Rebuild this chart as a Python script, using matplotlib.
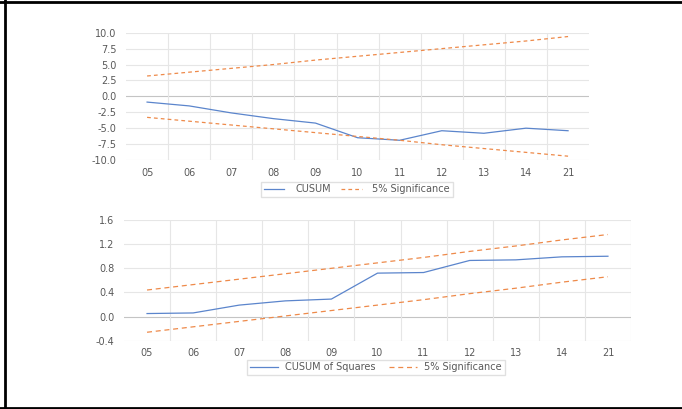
import matplotlib.pyplot as plt
from matplotlib.lines import Line2D

# Datos
periods = ["05", "06", "07", "08", "09", "10", "11", "12", "13", "14", "21"]

cusum = [-0.9, -1.5, -2.6, -3.5, -4.2, -6.5, -6.9, -5.4, -5.8, -5.0, -5.4]
cusum_up = [3.2, 3.8, 4.4, 5.0, 5.7, 6.3, 6.9, 7.5, 8.1, 8.7, 9.4]
cusum_lo = [-3.3, -3.9, -4.5, -5.1, -5.7, -6.3, -6.9, -7.6, -8.2, -8.8, -9.4]

cusumsq = [0.05, 0.06, 0.19, 0.26, 0.29, 0.72, 0.73, 0.93, 0.94, 0.99, 1.00]
sq_up = [0.44, 0.53, 0.62, 0.71, 0.80, 0.89, 0.98, 1.08, 1.17, 1.27, 1.36]
sq_lo = [-0.26, -0.17, -0.08, 0.01, 0.10, 0.19, 0.28, 0.38, 0.47, 0.57, 0.66]

top_ticks = [10.0, 7.5, 5.0, 2.5, 0.0, -2.5, -5.0, -7.5, -10.0]
bot_ticks = [1.6, 1.2, 0.8, 0.4, 0.0, -0.4]

blue = "#5B85CC"
orange = "#EE8A4A"
grid = "#E6E6E6"
txt = "#595959"
fs = 7

plt.rcParams["font.family"] = ["DejaVu Sans"]

fig = plt.figure(figsize=(6.82, 4.09), dpi=100)


def style(ax, ticks, fmt, right_line):
    x = range(len(periods))
    ax.set_xlim(-0.5, len(periods) - 0.5)
    ax.set_ylim(ticks[-1], ticks[0])
    ax.set_yticks(ticks)
    ax.set_yticklabels([fmt.format(t) for t in ticks])
    ax.set_xticks(list(x))
    ax.set_xticklabels(periods)
    for s in ax.spines.values():
        s.set_visible(False)
    ax.tick_params(length=0, labelsize=fs, colors=txt)
    ax.tick_params(axis="y", pad=7)
    for t in ticks:
        c = "#C4C4C4" if t == 0 else grid
        ax.axhline(t, color=c, lw=0.8, zorder=0)
    n = len(periods) + (1 if right_line else 0)
    for i in range(1, n):
        ax.axvline(i - 0.5, color=grid, lw=0.8, zorder=0)


# CUSUM
ax1 = fig.add_axes([0.1848, 0.6088, 0.679, 0.3112])
style(ax1, top_ticks, "{:.1f}", False)
ax1.tick_params(axis="x", pad=6)
x = range(len(periods))
ax1.plot(x, cusum, color=blue, lw=0.9)
ax1.plot(x, cusum_up, color=orange, lw=0.9, ls=(0, (3, 2.5)))
ax1.plot(x, cusum_lo, color=orange, lw=0.9, ls=(0, (3, 2.5)))
h1 = [Line2D([], [], color=blue, lw=0.9),
      Line2D([], [], color=orange, lw=0.9, ls=(0, (3, 2.5)))]
fig.legend(h1, ["CUSUM", "5% Significance"], loc="center",
           bbox_to_anchor=(357 / 682, 1 - 189.5 / 409), ncol=2,
           fontsize=fs, frameon=True, fancybox=False, edgecolor="#D9D9D9",
           handlelength=2.1, columnspacing=1.1, handletextpad=1.1,
           borderpad=0.3, borderaxespad=0, labelcolor=txt)

# CUSUM of Squares
ax2 = fig.add_axes([0.1818, 0.167, 0.7434, 0.295])
style(ax2, bot_ticks, "{:.1f}", True)
ax2.tick_params(axis="x", pad=5)
ax2.plot(x, cusumsq, color=blue, lw=0.9)
ax2.plot(x, sq_up, color=orange, lw=0.9, ls=(0, (4, 3)))
ax2.plot(x, sq_lo, color=orange, lw=0.9, ls=(0, (4, 3)))
h2 = [Line2D([], [], color=blue, lw=0.9),
      Line2D([], [], color=orange, lw=0.9, ls=(0, (4, 3)))]
fig.legend(h2, ["CUSUM of Squares", "5% Significance"], loc="center",
           bbox_to_anchor=(376 / 682, 1 - 367.5 / 409), ncol=2,
           fontsize=fs, frameon=True, fancybox=False, edgecolor="#D9D9D9",
           handlelength=2.9, columnspacing=1.4, handletextpad=0.7,
           borderpad=0.3, borderaxespad=0, labelcolor=txt)

# Marco negro (izquierda, arriba, abajo)
fig.add_artist(Line2D([5 / 682, 5 / 682], [0, 1], color="black", lw=2.0,
                      transform=fig.transFigure))
fig.add_artist(Line2D([0, 1], [1 - 2 / 409, 1 - 2 / 409], color="black",
                      lw=2.0, transform=fig.transFigure))
fig.add_artist(Line2D([0, 1], [1 - 407.5 / 409, 1 - 407.5 / 409],
                      color="black", lw=2.0, transform=fig.transFigure))

fig.savefig("out.png", dpi=100)
